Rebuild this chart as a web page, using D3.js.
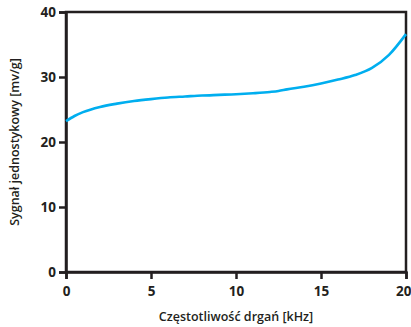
<!DOCTYPE html>
<html><head><meta charset="utf-8">
<script src="https://cdn.jsdelivr.net/npm/d3@7"></script>
<style>body{margin:0;background:#fff}svg{display:block}</style>
</head><body>
<script>
const freq = [0, 0.5, 1, 2, 3, 4, 5, 6, 7, 8, 9, 10, 11, 12, 12.5, 13, 14, 15, 16, 17, 18, 19, 20];
const signal = [23.2, 24.0, 24.6, 25.4, 25.9, 26.3, 26.6, 26.85, 27.0, 27.15, 27.25, 27.35, 27.5, 27.7, 27.85, 28.1, 28.5, 29.0, 29.6, 30.3, 31.4, 33.4, 36.6];
const xTicks = [0, 5, 10, 15, 20];
const yTicks = [0, 10, 20, 30, 40];
const xTitle = "Częstotliwość drgań [kHz]";
const yTitle = "Sygnał jednostykowy [mv/g]";

const W = 411, H = 327;
const m = {l: 66, r: 5, t: 12, b: 55};
const svg = d3.select("body").append("svg").attr("width", W).attr("height", H);
const x = d3.scaleLinear().domain([0, 20]).range([m.l, W - m.r]);
const y = d3.scaleLinear().domain([0, 40]).range([H - m.b, m.t]);
const dark = "#231f20";
const font = "'Open Sans', sans-serif";

svg.append("rect").attr("x", x(0)).attr("y", y(40)).attr("width", x(20) - x(0)).attr("height", y(0) - y(40))
  .attr("fill", "none").attr("stroke", dark).attr("stroke-width", 2.5);

const xa = svg.append("g").attr("transform", `translate(0,${y(0)})`)
  .call(d3.axisBottom(x).tickValues(xTicks).tickSize(7).tickPadding(7));
const ya = svg.append("g").attr("transform", `translate(${x(0)},0)`)
  .call(d3.axisLeft(y).tickValues(yTicks).tickSize(7).tickPadding(3));
[xa, ya].forEach(a => {
  a.select(".domain").attr("stroke", dark).attr("stroke-width", 2.5);
  a.selectAll(".tick line").attr("stroke", dark).attr("stroke-width", 2.5);
  a.selectAll(".tick text").attr("fill", dark).attr("font-family", font).attr("font-weight", 700).attr("font-size", 13.5);
});
// keep last x label inside the window, as in the reference
xa.selectAll(".tick text").filter(d => d === 20).attr("text-anchor", "end").attr("dx", 5);

const line = d3.line().x((d, i) => x(freq[i])).y(d => y(d)).curve(d3.curveMonotoneX);
svg.append("path").datum(signal).attr("d", line).attr("fill", "none")
  .attr("stroke", "#00aeef").attr("stroke-width", 2.6);

svg.append("text").attr("x", (x(0) + x(20)) / 2).attr("y", 321).attr("text-anchor", "middle")
  .attr("font-family", font).attr("font-weight", 600).attr("font-size", 12.5).attr("fill", dark).text(xTitle);
svg.append("text").attr("transform", `translate(19,${(y(0) + y(40)) / 2}) rotate(-90)`).attr("text-anchor", "middle")
  .attr("font-family", font).attr("font-weight", 600).attr("font-size", 12.5).attr("fill", dark).text(yTitle);
</script>
</body></html>
